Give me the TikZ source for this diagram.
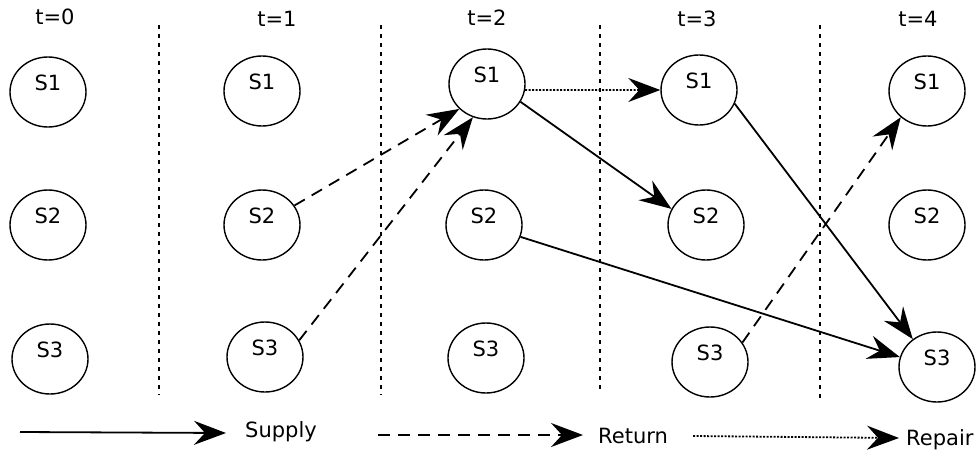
\documentclass[tikz,border=0pt]{standalone}
\usepackage{fontspec}
\setmainfont{DejaVu Sans}
\usetikzlibrary{arrows.meta,shapes.geometric}
\begin{document}
\begin{tikzpicture}[x=1pt,y=-1pt,
  every node/.style={font=\fontsize{21}{24}\selectfont},
  state/.style={draw,ellipse,line width=1.4pt,minimum width=76pt,minimum height=70pt,inner sep=0pt,text height=16pt,text depth=19pt},
  timelabel/.style={inner sep=0pt},
  sep/.style={line width=1.6pt,dash pattern=on 4pt off 5pt},
  tip/.style={-{Stealth[length=32pt,width=24pt,inset=11pt]}},
  supply/.style={tip,line width=1.8pt},
  return/.style={tip,line width=1.8pt,dash pattern=on 12pt off 8pt},
  repair/.style={tip,line width=1.8pt,dash pattern=on 2pt off 1.5pt},
  legendtext/.style={inner sep=0pt}]
\useasboundingbox (0,0) rectangle (979,455);
% time labels
\node[timelabel] (t0) at (55,17) {t=0};
\node[timelabel] (t1) at (277,19) {t=1};
\node[timelabel] (t2) at (487,18) {t=2};
\node[timelabel] (t3) at (697,19) {t=3};
\node[timelabel] (t4) at (918,19) {t=4};
% separators
\coordinate (v1a) at (159,25); \coordinate (v1b) at (159,395);
\coordinate (v2a) at (381,25); \coordinate (v2b) at (381,395);
\coordinate (v3a) at (600,25); \coordinate (v3b) at (600,392);
\coordinate (v4a) at (820,25); \coordinate (v4b) at (820,398);
\draw[sep] (v1a) -- (v1b);
\draw[sep] (v2a) -- (v2b);
\draw[sep] (v3a) -- (v3b);
\draw[sep] (v4a) -- (v4b);
% states
\node[state] (a1) at (48,92) {S1};
\node[state] (a2) at (48,225) {S2};
\node[state] (a3) at (50,359) {S3};
\node[state] (b1) at (262,91) {S1};
\node[state] (b2) at (262,225) {S2};
\node[state] (b3) at (265,357) {S3};
\node[state] (c1) at (487,84) {S1};
\node[state] (c2) at (484,225) {S2};
\node[state] (c3) at (486,358) {S3};
\node[state] (d1) at (699,90) {S1};
\node[state] (d2) at (706,225) {S2};
\node[state] (d3) at (710,362) {S3};
\node[state] (e1) at (927,91) {S1};
\node[state] (e2) at (927,225) {S2};
\node[state] (e3) at (937,367) {S3};
% transitions
\draw[return] (b2.31) -- (c1.222);
\draw[return] (b3.26) -- (c1.247);
\draw[repair] (c1.-9) -- (d1.180);
\draw[supply] (c1.-28) -- (d2.155);
\draw[supply] (c2.-18) -- (e3.165);
\draw[supply] (d1.-21) -- (e3.131);
\draw[return] (d3.31) -- (e1.225);
% legend
\coordinate (ls) at (20,432);
\coordinate (le) at (226,433);
\node[legendtext,anchor=west] (lsupply) at (245,432) {Supply};
\coordinate (rs) at (378,435);
\coordinate (re) at (583,435);
\node[legendtext,anchor=west] (lreturn) at (598,436) {Return};
\coordinate (ps) at (693,436);
\coordinate (pe) at (899,438);
\node[legendtext,anchor=west] (lrepair) at (906,440) {Repair};
\draw[supply] (ls) -- (le);
\draw[return] (rs) -- (re);
\draw[repair] (ps) -- (pe);
\end{tikzpicture}
\end{document}
